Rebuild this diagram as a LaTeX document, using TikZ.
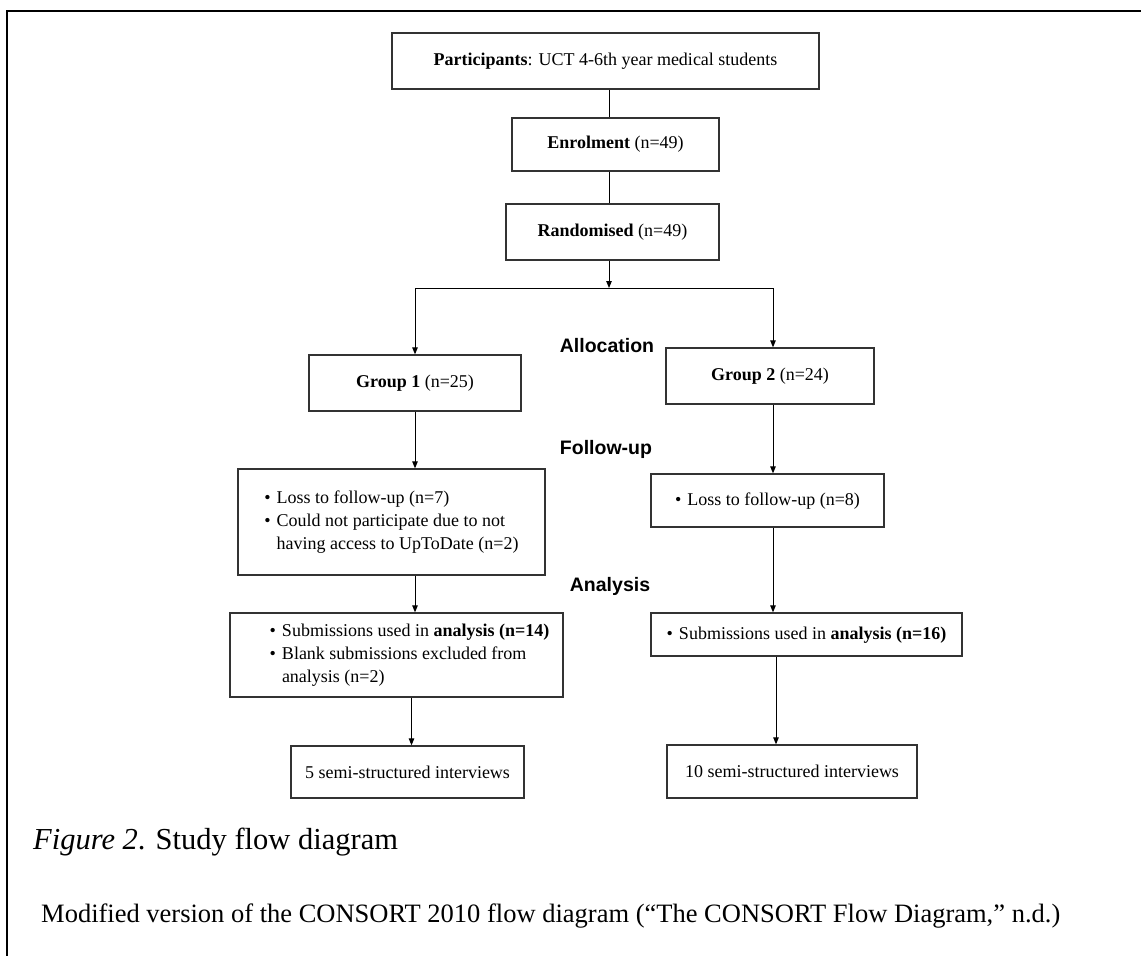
\documentclass[tikz,border=0pt]{standalone}
\usepackage{fontspec}
\setmainfont{Liberation Serif}
\newfontfamily\phasefont{Liberation Sans}
\usetikzlibrary{arrows.meta}
\newcommand\boxfont{\fontsize{18}{22.7}\selectfont}
\newcommand\bullist[1]{\begin{tabular}{@{}l@{\hspace{6pt}}l@{}}#1\end{tabular}}

\tikzset{
  box/.style={draw=black!80,line width=1.3pt,inner sep=0pt,font=\boxfont,align=center},
  link/.style={line width=1pt},
  arr/.style={link,-{Triangle[length=7pt,width=5.5pt]}},
  phaselbl/.style={anchor=base,inner sep=0pt,font=\phasefont\bfseries\fontsize{19.5}{22}\selectfont},
  captxt/.style={anchor=base west,inner sep=0pt}
}

\begin{document}
\begin{tikzpicture}[x=1pt,y=-1pt]
    \useasboundingbox (0,0) rectangle (1141,956);
    \draw[line width=2pt] (7,956) -- (7,11) -- (1141,11);

    \coordinate (spine) at (609,0);
    \coordinate (colL) at (415,0);
    \coordinate (colR) at (773,0);
    \coordinate (colLL) at (411.5,0);
    \coordinate (colRR) at (776,0);
    \coordinate (split) at (609,288);

    \node[box,minimum width=427pt,minimum height=56pt] (part) at (605.5,61)
      {\textbf{Participants}: UCT 4-6th year medical students};
    \node[box,minimum width=207pt,minimum height=53pt] (enrol) at (615.5,144.5)
      {\textbf{Enrolment} (n=49)};
    \node[box,minimum width=213pt,minimum height=56pt] (rand) at (612.5,232)
      {\textbf{Randomised} (n=49)};

    \node[box,minimum width=212pt,minimum height=56pt] (grp1) at (415,383)
      {\textbf{Group 1} (n=25)};
    \node[box,minimum width=208pt,minimum height=56pt] (grp2) at (770,376)
      {\textbf{Group 2} (n=24)};

    \node[box,minimum width=307pt,minimum height=106pt] (loss1) at (391.5,522)
      {\bullist{\textbullet & Loss to follow-up (n=7)\\
                \textbullet & Could not participate due to not\\
                            & having access to UpToDate (n=2)}};
    \node[box,minimum width=233pt,minimum height=53pt] (loss2) at (767.5,500.5)
      {\bullist{\textbullet & Loss to follow-up (n=8)}};

    \node[box,minimum width=333pt,minimum height=84pt] (ana1) at (396.5,655)
      {\hspace*{26pt}\bullist{\textbullet & Submissions used in \textbf{analysis (n=14)}\\
                              \textbullet & Blank submissions excluded from\\
                                          & analysis (n=2)}};
    \node[box,minimum width=311pt,minimum height=43pt] (ana2) at (806.5,634.5)
      {\bullist{\textbullet & Submissions used in \textbf{analysis (n=16)}}};

    \node[box,minimum width=233pt,minimum height=52pt] (int1) at (407.5,772)
      {5 semi-structured interviews};
    \node[box,minimum width=250pt,minimum height=53pt] (int2) at (792,771.5)
      {10 semi-structured interviews};

    \node[phaselbl] (alloc) at (607,352) {Allocation};
    \node[phaselbl] (follow) at (606,454) {Follow-up};
    \node[phaselbl] (anal) at (610,591) {Analysis};

    \draw[link] (part.south -| spine) -- (enrol.north -| spine);
    \draw[link] (enrol.south -| spine) -- (rand.north -| spine);
    \draw[arr] (rand.south -| spine) -- (split);
    \draw[link] (split -| colL) -- (split -| colR);
    \draw[arr] (split -| colL) -- (grp1.north -| colL);
    \draw[arr] (split -| colR) -- (grp2.north -| colR);

    \draw[arr] (grp1.south -| colL) -- (loss1.north -| colL);
    \draw[arr] (loss1.south -| colL) -- (ana1.north -| colL);
    \draw[arr] (ana1.south -| colLL) -- (int1.north -| colLL);

    \draw[arr] (grp2.south -| colR) -- (loss2.north -| colR);
    \draw[arr] (loss2.south -| colR) -- (ana2.north -| colR);
    \draw[arr] (ana2.south -| colRR) -- (int2.north -| colRR);

    \node[captxt,font=\fontsize{30.5}{36}\selectfont] (cap) at (33,849)
      {\textit{Figure 2}. Study flow diagram};
    \node[captxt,font=\fontsize{26.5}{32}\selectfont] (src) at (41,922)
      {Modified version of the CONSORT 2010 flow diagram (“The CONSORT Flow Diagram,” n.d.)};
\end{tikzpicture}
\end{document}
